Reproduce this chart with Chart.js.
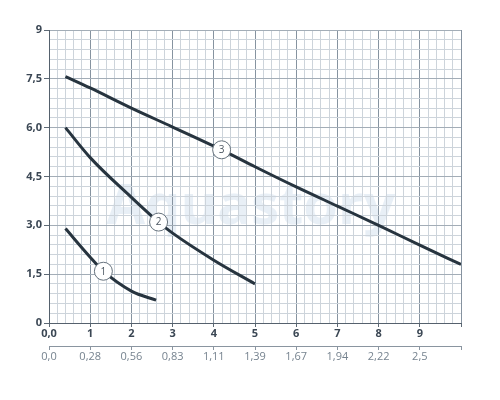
<!DOCTYPE html>
<html>
<head>
<meta charset="utf-8">
<script src="https://cdn.jsdelivr.net/npm/chart.js@4"></script>
<style>
  html, body { margin: 0; padding: 0; background: #fff; }
  #wrap { width: 500px; height: 400px; }
</style>
</head>
<body>
<div id="wrap"><canvas id="pump-chart" width="500" height="400"></canvas></div>
<script>
// head (m) vs flow, three speed settings
const curve1X = [0.4, 1.0, 1.32, 2.0, 2.6];
const curve1Y = [2.9, 2.02, 1.59, 0.98, 0.7];
const curve2X = [0.4, 1.0, 2.0, 2.66, 3.0, 4.0, 5.0];
const curve2Y = [6.0, 5.08, 3.86, 3.1, 2.76, 1.93, 1.2];
const curve3X = [0.4, 1.0, 2.0, 3.0, 4.0, 4.19, 5.0, 6.0, 7.0, 8.0, 9.0, 10.0];
const curve3Y = [7.57, 7.22, 6.6, 6.02, 5.43, 5.32, 4.8, 4.18, 3.59, 3.0, 2.39, 1.8];
const curveNames = ["1", "2", "3"];
const labelIndex = [2, 3, 5];

const xTickLabels = ["0,0", "1", "2", "3", "4", "5", "6", "7", "8", "9", ""];
const flowTickLabels = ["0,0", "0,28", "0,56", "0,83", "1,11", "1,39", "1,67", "1,94", "2,22", "2,5", ""];
const yTickLabels = ["0", "1,5", "3,0", "4,5", "6,0", "7,5", "9"];
const watermark = "Aquastory";

const isInt = v => Math.abs(v - Math.round(v)) < 1e-6;
const isMajorY = v => Math.abs(v / 1.5 - Math.round(v / 1.5)) < 1e-6;

function pts(xs, ys) {
  return xs.map((x, i) => ({ x, y: ys[i] }));
}

const lineStyle = {
  borderColor: "#27343f",
  borderWidth: 3,
  pointRadius: 0,
  cubicInterpolationMode: "monotone",
  fill: false,
};

const watermarkPlugin = {
  id: "watermark",
  beforeDraw(chart) {
    const { ctx, scales } = chart;
    ctx.save();
    ctx.font = "bold 56px 'Open Sans'";
    ctx.fillStyle = "rgba(214, 226, 238, 0.55)";
    ctx.textAlign = "center";
    ctx.textBaseline = "alphabetic";
    ctx.fillText(watermark, scales.x.getPixelForValue(4.9), scales.y.getPixelForValue(3.05));
    ctx.restore();
  },
};

const curveLabels = {
  id: "curveLabels",
  afterDatasetsDraw(chart) {
    const { ctx } = chart;
    ctx.save();
    chart.data.datasets.forEach((ds, i) => {
      const el = chart.getDatasetMeta(i).data[labelIndex[i]];
      ctx.beginPath();
      ctx.arc(el.x, el.y, 9, 0, Math.PI * 2);
      ctx.fillStyle = "#fff";
      ctx.fill();
      ctx.lineWidth = 1;
      ctx.strokeStyle = "#66727d";
      ctx.stroke();
      ctx.fillStyle = "#4a5560";
      ctx.font = "10px 'Open Sans'";
      ctx.textAlign = "center";
      ctx.textBaseline = "middle";
      ctx.fillText(curveNames[i], el.x, el.y + 0.5);
    });
    ctx.restore();
  },
};

new Chart(document.getElementById("pump-chart"), {
  type: "line",
  data: {
    datasets: [
      { ...lineStyle, label: curveNames[0], data: pts(curve1X, curve1Y) },
      { ...lineStyle, label: curveNames[1], data: pts(curve2X, curve2Y) },
      { ...lineStyle, label: curveNames[2], data: pts(curve3X, curve3Y) },
    ],
  },
  options: {
    responsive: false,
    animation: false,
    layout: { padding: { top: 30, right: 39, bottom: 34, left: 0 } },
    plugins: { legend: { display: false }, tooltip: { enabled: false } },
    scales: {
      x: {
        type: "linear",
        min: 0,
        max: 10,
        weight: 0,
        afterFit: s => { s.height = 23; },
        ticks: {
          stepSize: 0.2,
          autoSkip: false,
          maxRotation: 0,
          padding: 0,
          color: "#3b4754",
          font: { family: "'Open Sans'", size: 11, weight: "bold" },
          callback: v => (isInt(v) ? xTickLabels[Math.round(v)] : ""),
        },
        grid: {
          color: c => (isInt(c.tick.value) ? "#8693a0" : "#cdd4db"),
          tickColor: c => (isInt(c.tick.value) ? "#5d6975" : "transparent"),
          tickLength: 4,
          lineWidth: 1,
        },
        border: { color: "#55616d", width: 1 },
      },
      x2: {
        type: "linear",
        position: "bottom",
        min: 0,
        max: 10,
        weight: 1,
        afterFit: s => { s.height = 20; },
        ticks: {
          stepSize: 1,
          autoSkip: false,
          maxRotation: 0,
          padding: 0,
          color: "#76838f",
          font: { family: "'Open Sans'", size: 11 },
          callback: v => flowTickLabels[Math.round(v)],
        },
        grid: { drawOnChartArea: false, tickColor: "#8a95a0", tickLength: 4 },
        border: { color: "#8a95a0", width: 1 },
      },
      y: {
        type: "linear",
        min: 0,
        max: 9,
        afterFit: s => { s.width = 49; },
        ticks: {
          stepSize: 0.3,
          autoSkip: false,
          padding: 2,
          color: "#3b4754",
          font: { family: "'Open Sans'", size: 11, weight: "bold" },
          callback: v => (isMajorY(v) ? yTickLabels[Math.round(v / 1.5)] : ""),
        },
        grid: {
          color: c => (isMajorY(c.tick.value) ? "#a3adb7" : "#cdd4db"),
          tickColor: c => (isMajorY(c.tick.value) ? "#5d6975" : "transparent"),
          tickLength: 5,
          lineWidth: 1,
        },
        border: { color: "#55616d", width: 1 },
      },
    },
  },
  plugins: [watermarkPlugin, curveLabels],
});
</script>
</body>
</html>
